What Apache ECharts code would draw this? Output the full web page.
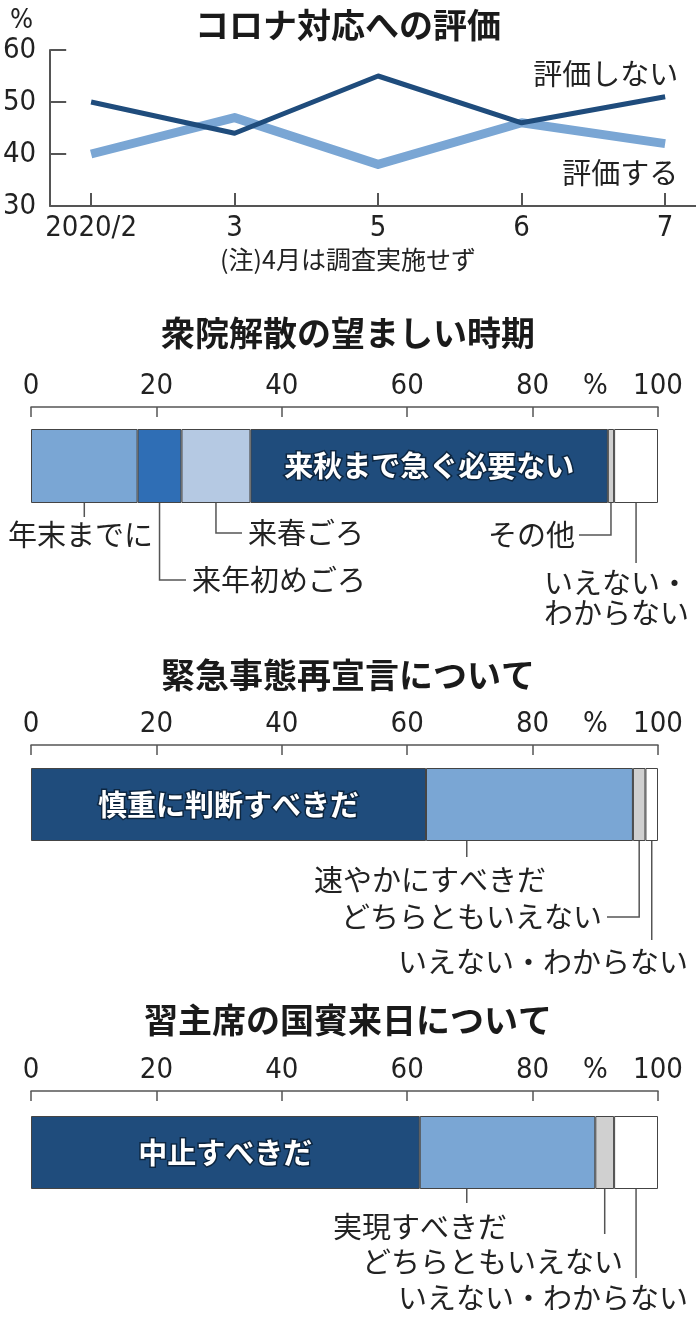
<!DOCTYPE html>
<html>
<head>
<meta charset="utf-8">
<script src="https://cdn.jsdelivr.net/npm/echarts@6/dist/echarts.min.js"></script>
<style>
html,body{margin:0;padding:0;background:#fff;}
#main{width:696px;height:1328px;}
</style>
</head>
<body>
<div id="main"></div>
<script>
/*== コロナ対応への評価 ==*/
var months = ['2020/2', '3', '5', '6', '7'];
var notRated = [50, 44, 55, 46, 51];   // 評価しない
var rated = [40, 47, 38, 46, 42];      // 評価する

/*== 衆院解散の望ましい時期 ==*/
var dissolveNames = ['年末までに', '来年初めごろ', '来春ごろ', '来秋まで急ぐ必要ない', 'その他', 'いえない・わからない'];
var dissolveValues = [17, 7, 11, 57, 1, 7];

/*== 緊急事態再宣言について ==*/
var emergencyNames = ['慎重に判断すべきだ', '速やかにすべきだ', 'どちらともいえない', 'いえない・わからない'];
var emergencyValues = [63, 33, 2, 2];

/*== 習主席の国賓来日について ==*/
var xiNames = ['中止すべきだ', '実現すべきだ', 'どちらともいえない', 'いえない・わからない'];
var xiValues = [62, 28, 3, 7];

var pctTicks = [0, 20, 40, 60, 80, 100];

var NUM = "'Liberation Sans Narrow','DejaVu Sans Condensed','Roboto','Liberation Sans',sans-serif";
var JP = "'Noto Sans CJK JP',sans-serif";
var DARK = '#1f4c7c', LIGHT = '#7aa6d4', MID = '#2f6eb5', PALE = '#b5c9e3', GRAY = '#d0d0d0', WHITE = '#ffffff';
var AXIS = '#555';

var bars = [
    {names: dissolveNames, values: dissolveValues, colors: [LIGHT, MID, PALE, DARK, GRAY, WHITE], inner: [3], top: 429, height: 74, axisY: 407},
    {names: emergencyNames, values: emergencyValues, colors: [DARK, LIGHT, GRAY, WHITE], inner: [0], top: 768, height: 73, axisY: 745},
    {names: xiNames, values: xiValues, colors: [DARK, LIGHT, GRAY, WHITE], inner: [0], top: 1116, height: 73, axisY: 1091}
];

function titleOf(text, top){
    return {text: text, left: 'center', top: top,
        textStyle: {fontSize: 34, fontWeight: 'bold', fontFamily: JP, color: '#1a1a1a'}};
}

var grids = [{left: 48, top: 50, width: 648, height: 156}];
var xAxes = [{
    gridIndex: 0, type: 'value', min: -0.285, max: 4.215,
    axisLine: {show: true, onZero: false, lineStyle: {color: AXIS, width: 2}},
    axisTick: {show: true, inside: true, length: 13, customValues: months.map(function(m, i){ return i; }), lineStyle: {color: AXIS, width: 2}},
    axisLabel: {customValues: months.map(function(m, i){ return i; }), formatter: function(v){ return months[v]; },
        fontSize: 29, fontFamily: NUM, color: '#222', margin: 8},
    splitLine: {show: false}
}];
var yAxes = [{
    gridIndex: 0, type: 'value', min: 30, max: 60, interval: 10,
    axisLine: {show: true, onZero: false, lineStyle: {color: AXIS, width: 2}},
    axisTick: {show: true, inside: true, length: 16, lineStyle: {color: AXIS, width: 2}},
    axisLabel: {fontSize: 29, fontFamily: NUM, color: '#222', margin: 14},
    splitLine: {show: false}
}];
var series = [
    {
        name: '評価する', type: 'line', xAxisIndex: 0, yAxisIndex: 0, symbol: 'none',
        data: months.map(function(m, i){ return [i, rated[i]]; }),
        lineStyle: {color: LIGHT, width: 9, join: 'round'},
        endLabel: {show: true, formatter: '{a}', align: 'right', verticalAlign: 'middle', distance: 0, offset: [13, 29],
            fontSize: 29, fontFamily: JP, color: '#222'}
    },
    {
        name: '評価しない', type: 'line', xAxisIndex: 0, yAxisIndex: 0, symbol: 'none',
        data: months.map(function(m, i){ return [i, notRated[i]]; }),
        lineStyle: {color: DARK, width: 5, join: 'round'},
        endLabel: {show: true, formatter: '{a}', align: 'right', verticalAlign: 'middle', distance: 0, offset: [13, -23],
            fontSize: 29, fontFamily: JP, color: '#222'}
    }
];

bars.forEach(function(b, k){
    grids.push({left: 31, top: b.top, width: 627, height: b.height});
    xAxes.push({
        gridIndex: k + 1, type: 'value', min: 0, max: 100, position: 'top', offset: b.top - b.axisY,
        axisLine: {show: true, onZero: false, lineStyle: {color: AXIS, width: 1.5}},
        axisTick: {show: true, inside: true, length: 10, customValues: pctTicks, lineStyle: {color: AXIS, width: 1.5}},
        axisLabel: {customValues: pctTicks.concat([90]), formatter: function(v){ return v === 90 ? '%' : v; },
            fontSize: 29, fontFamily: NUM, color: '#222', margin: 6},
        splitLine: {show: false}
    });
    yAxes.push({gridIndex: k + 1, type: 'category', data: [''], show: false});
    b.names.forEach(function(name, i){
        var isInner = b.inner.indexOf(i) >= 0;
        series.push({
            name: name, type: 'bar', stack: 'b' + k, xAxisIndex: k + 1, yAxisIndex: k + 1,
            data: [b.values[i]], barWidth: '100%',
            itemStyle: {color: b.colors[i], borderColor: '#444', borderWidth: 1},
            label: {show: isInner, position: 'inside', formatter: '{a}', color: '#fff', fontSize: 29, fontWeight: 'bold',
                fontFamily: JP, textBorderColor: '#0d2640', textBorderWidth: 3}
        });
    });
});

var option = {
    animation: false,
    backgroundColor: '#fff',
    title: [
        titleOf('コロナ対応への評価', 3),
        {text: '%', left: 5, top: 2, textStyle: {fontSize: 27, fontWeight: 'normal', fontFamily: NUM, color: '#222'}},
        {text: '(注)4月は調査実施せず', left: 'center', top: 242, textStyle: {fontSize: 25, fontWeight: 'normal', fontFamily: JP, color: '#222'}},
        titleOf('衆院解散の望ましい時期', 311),
        titleOf('緊急事態再宣言について', 653),
        titleOf('習主席の国賓来日について', 998)
    ],
    grid: grids,
    xAxis: xAxes,
    yAxis: yAxes,
    series: series
};

var myChart = echarts.init(document.getElementById('main'));
myChart.setOption(option);

/*== 引き出し線と外側ラベル ==*/
var callouts = [
    {k: 0, seg: 0, to: 517, tx: 8, ty: 535, align: 'left'},
    {k: 0, seg: 1, to: 580, elbow: 186, tx: 192, ty: 580, align: 'left'},
    {k: 0, seg: 2, to: 533, elbow: 242, tx: 248, ty: 533, align: 'left'},
    {k: 0, seg: 4, to: 535, elbow: 579, tx: 575, ty: 535, align: 'right'},
    {k: 0, seg: 5, to: 563, wrap: true, tx: 544, ty: 598, align: 'left'},
    {k: 1, seg: 1, shift: -10, to: 857, tx: 430, ty: 880, align: 'center'},
    {k: 1, seg: 2, to: 917, elbow: 607, tx: 602, ty: 917, align: 'right'},
    {k: 1, seg: 3, to: 940, tx: 688, ty: 962, align: 'right'},
    {k: 2, seg: 1, shift: -6.5, to: 1203, tx: 420, ty: 1227, align: 'center'},
    {k: 2, seg: 2, to: 1234, tx: 623, ty: 1262, align: 'right'},
    {k: 2, seg: 3, to: 1278, tx: 688, ty: 1298, align: 'right'}
];

var graphics = [];
callouts.forEach(function(c){
    var b = bars[c.k];
    var start = 0;
    for (var i = 0; i < c.seg; i++) start += b.values[i];
    var mid = start + b.values[c.seg] / 2 + (c.shift || 0);
    var x = myChart.convertToPixel({xAxisIndex: c.k + 1}, mid);
    var bottom = b.top + b.height;
    var pts = [[x, bottom], [x, c.to]];
    if (c.elbow != null) pts.push([c.elbow, c.to]);
    graphics.push({type: 'polyline', silent: true, shape: {points: pts},
        style: {stroke: AXIS, lineWidth: 1.5, fill: null}});
    var txt = b.names[c.seg];
    if (c.wrap) txt = txt.replace('・', '・\n');
    graphics.push({type: 'text', silent: true,
        style: {text: txt, x: c.tx, y: c.ty, align: c.align, verticalAlign: 'middle',
            fontSize: 29, fontFamily: JP, fill: '#222', lineHeight: 30}});
});
myChart.setOption({graphic: graphics});
</script>
</body>
</html>
